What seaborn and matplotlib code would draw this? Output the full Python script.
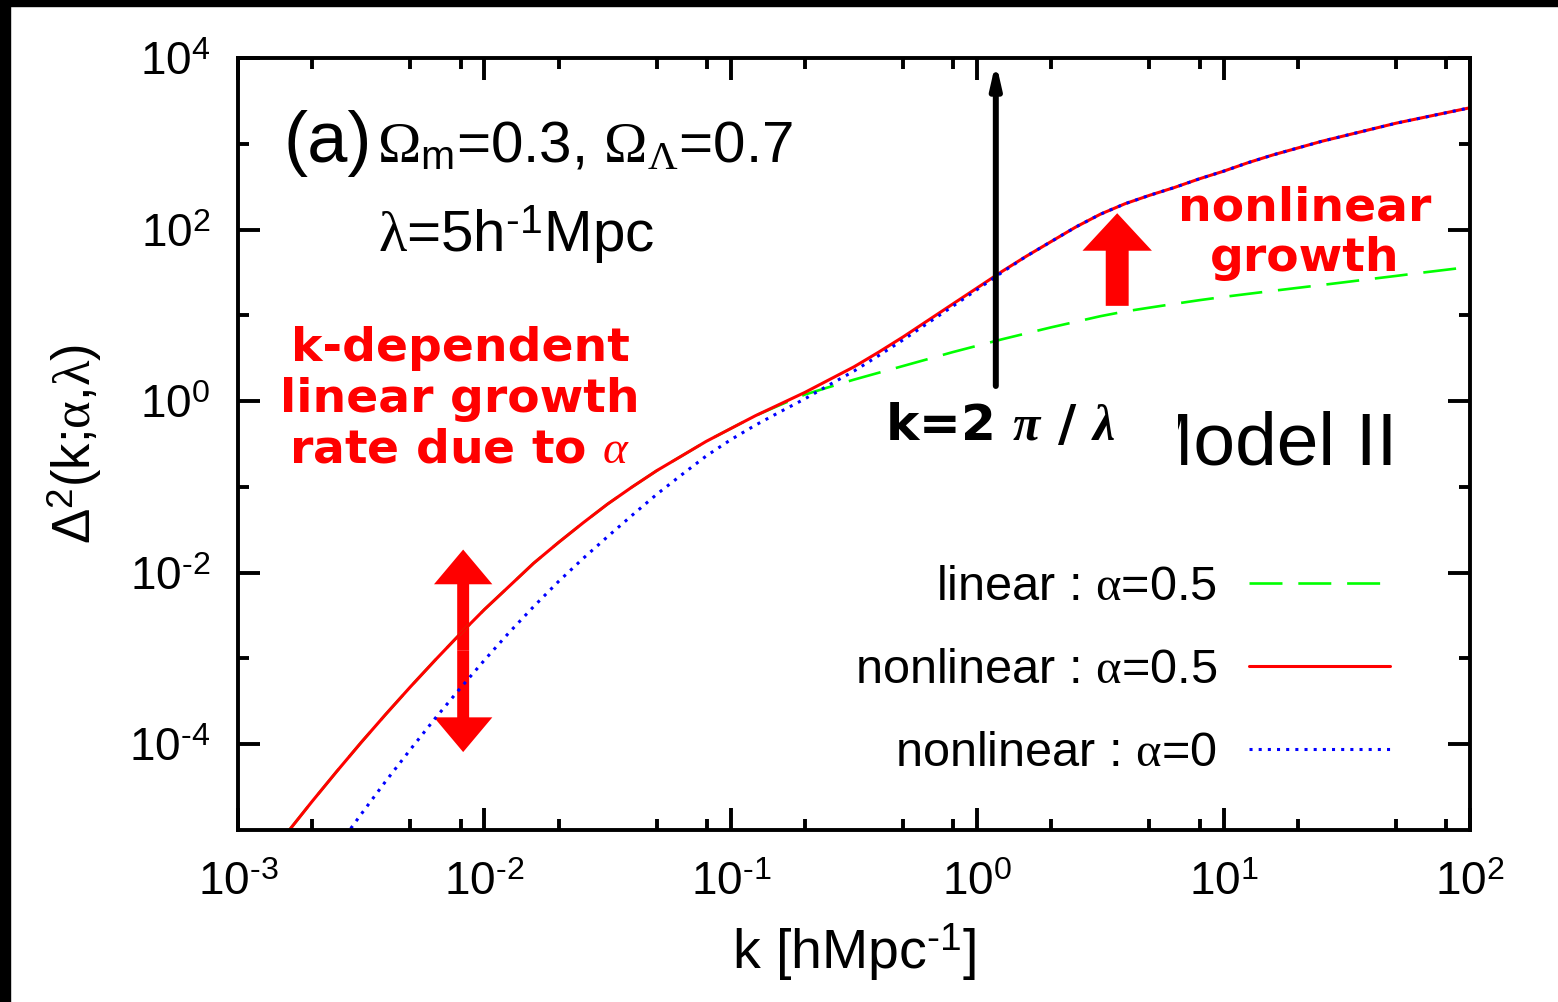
import matplotlib
matplotlib.use("Agg")
import matplotlib.pyplot as plt
import seaborn as sns
import pandas as pd
from matplotlib.patches import Rectangle, FancyArrowPatch
from matplotlib.ticker import FixedLocator, NullFormatter
from matplotlib.transforms import Bbox, TransformedBbox

# wavenumber k [h/Mpc]
k = [1.585e-3, 1.995e-3, 2.512e-3, 3.162e-3, 3.981e-3, 5.012e-3, 6.310e-3, 7.943e-3,
     1.000e-2, 1.259e-2, 1.585e-2, 1.995e-2, 2.512e-2, 3.162e-2, 3.981e-2, 5.012e-2,
     6.310e-2, 7.943e-2, 0.1000, 0.1259, 0.1585, 0.1995, 0.2512, 0.3162, 0.3981,
     0.5012, 0.6310, 0.7943, 1.000, 1.259, 1.585, 1.995, 2.512, 3.162, 3.981, 5.012,
     6.310, 7.943, 10.00, 12.59, 15.85, 19.95, 25.12, 31.62, 39.81, 50.12, 63.10,
     79.43, 100.0]

# Delta^2(k)
nonlin_a05 = [9.33e-6, 2.14e-5, 4.79e-5, 1.05e-4, 2.24e-4, 4.68e-4, 9.55e-4, 1.91e-3,
              3.72e-3, 6.92e-3, 1.29e-2, 2.24e-2, 3.80e-2, 6.31e-2, 0.100, 0.155,
              0.229, 0.339, 0.479, 0.676, 0.923, 1.26, 1.78, 2.51, 3.72,
              5.62, 8.71, 13.5, 20.9, 32.4, 49.0, 72.4, 107, 151, 200, 251,
              309, 389, 479, 603, 741, 891, 1072, 1259, 1479, 1738, 1995,
              2291, 2630]
lin_a05 = [9.33e-6, 2.14e-5, 4.79e-5, 1.05e-4, 2.24e-4, 4.68e-4, 9.55e-4, 1.91e-3,
           3.72e-3, 6.92e-3, 1.29e-2, 2.24e-2, 3.80e-2, 6.31e-2, 0.100, 0.155,
           0.229, 0.339, 0.479, 0.676, 0.902, 1.19, 1.46, 1.78, 2.14,
           2.57, 3.09, 3.72, 4.42, 5.25, 6.17, 7.24, 8.41, 9.77, 11.1, 12.3,
           13.6, 15.0, 16.4, 17.8, 19.3, 20.9, 22.6, 24.5, 26.6, 28.8, 31.3,
           33.9, 36.7]
nonlin_a0 = [9.33e-7, 2.40e-6, 6.17e-6, 1.53e-5, 3.72e-5, 8.71e-5, 2.00e-4, 4.42e-4,
             9.55e-4, 2.00e-3, 4.03e-3, 7.85e-3, 1.46e-2, 2.63e-2, 4.68e-2, 8.22e-2,
             0.138, 0.229, 0.355, 0.525, 0.750, 1.06, 1.55, 2.24, 3.39,
             5.19, 8.13, 12.7, 20.0, 31.6, 49.0, 72.4, 107, 151, 200, 251,
             309, 389, 479, 603, 741, 891, 1072, 1259, 1479, 1738, 1995,
             2291, 2630]

series_labels = [r"linear : $\mathsf{\alpha}$=0.5",
                 r"nonlinear : $\mathsf{\alpha}$=0.5",
                 r"nonlinear : $\mathsf{\alpha}$=0"]

xticks = [1e-3, 1e-2, 1e-1, 1e0, 1e1, 1e2]
xticklabels = [r"$10^{\text{-}3}$", r"$10^{\text{-}2}$", r"$10^{\text{-}1}$",
               r"$10^{0}$", r"$10^{1}$", r"$10^{2}$"]
yticks = [1e-4, 1e-2, 1e0, 1e2, 1e4]
yticklabels = [r"$10^{\text{-}4}$", r"$10^{\text{-}2}$", r"$10^{0}$", r"$10^{2}$", r"$10^{4}$"]

sns.set_theme(style="ticks")
plt.rcParams['font.family'] = ['Liberation Sans', 'DejaVu Sans']
plt.rcParams['mathtext.fontset'] = 'custom'
plt.rcParams['mathtext.rm'] = 'Liberation Sans'
plt.rcParams['mathtext.it'] = 'Liberation Serif:italic'
plt.rcParams['mathtext.sf'] = 'Liberation Serif'
plt.rcParams['mathtext.bf'] = 'Liberation Sans:bold'
plt.rcParams['mathtext.bfit'] = 'Liberation Serif:italic:bold'
for key in ['text.color', 'axes.labelcolor', 'xtick.color', 'ytick.color', 'axes.edgecolor']:
    plt.rcParams[key] = 'black'

W, H = 1558, 1002
fig = plt.figure(figsize=(W / 100, H / 100), dpi=100)
fig.patch.set_facecolor('white')
ax = fig.add_axes([238 / W, 1 - 830 / H, (1470 - 238) / W, (830 - 58) / H])
ax.set_facecolor('white')
ax.set_xscale('log')
ax.set_yscale('log')

df = pd.DataFrame({'k': k, 'lin': lin_a05, 'nl05': nonlin_a05, 'nl0': nonlin_a0})

sns.lineplot(data=df, x='k', y='lin', ax=ax, color='#00ff00', lw=1.9,
             linestyle=(0, (12.5, 6)), label=series_labels[0])
sns.lineplot(data=df, x='k', y='nl05', ax=ax, color='#ff0000', lw=2.2,
             label=series_labels[1])
sns.lineplot(data=df, x='k', y='nl0', ax=ax, color='#0000ff', lw=2.2,
             linestyle=(0, (1, 2)), label=series_labels[2])

ax.set_xlim(1e-3, 1e2)
ax.set_ylim(1e-5, 1e4)

ax.xaxis.set_major_locator(FixedLocator(xticks))
ax.set_xticklabels(xticklabels)
ax.xaxis.set_minor_locator(FixedLocator([m * d for d in [1e-3, 1e-2, 1e-1, 1, 10] for m in (2, 5, 8)]))
ax.xaxis.set_minor_formatter(NullFormatter())
ax.yaxis.set_major_locator(FixedLocator(yticks))
ax.set_yticklabels(yticklabels)
ax.yaxis.set_minor_locator(FixedLocator([1e-3, 1e-1, 1e1, 1e3]))
ax.yaxis.set_minor_formatter(NullFormatter())

for s in ax.spines.values():
    s.set_linewidth(2.8)
    s.set_color('black')
    s.set_visible(True)
ax.tick_params(which='both', direction='in', top=True, right=True, width=2.8, color='black')
ax.tick_params(which='major', length=16, labelsize=33)
ax.tick_params(which='minor', length=8)
ax.tick_params(axis='y', pad=20)
ax.tick_params(axis='x', pad=22)
ax.grid(False)

ax.set_xlabel(r"k [hMpc$^{\text{-}1}$]", fontsize=40, labelpad=12)
ax.set_ylabel(r"$\Delta^{2}$(k;$\mathsf{\alpha}$,$\mathsf{\lambda}$)", fontsize=38, labelpad=18)

leg = ax.legend(loc='lower right', bbox_to_anchor=(0.935, 0.07), markerfirst=False,
                frameon=False, fontsize=35, handlelength=2.9, handletextpad=0.66,
                labelspacing=0.78, borderaxespad=0, borderpad=0)


def fx(px):
    return px / W


def fy(py):
    return 1 - py / H


# panel text
fig.text(fx(283), fy(162), "(a)", fontsize=52, va='baseline')
fig.text(fx(377), fy(162), r"$\mathsf{\Omega}_{\mathrm{m}}$=0.3, $\mathsf{\Omega}_{\mathsf{\Lambda}}$=0.7",
         fontsize=42, va='baseline')
fig.text(fx(378), fy(252), r"$\mathsf{\lambda}$=5h$^{\text{-}1}$Mpc", fontsize=42, va='baseline')

# model label, partly hidden
model = fig.text(fx(1131), fy(465), "Model II", fontsize=54, va='baseline')
model.set_clip_box(TransformedBbox(Bbox.from_extents(1178 / W, 0, 1, 1), fig.transFigure))
model.set_clip_on(True)

# red annotations
fig.text(fx(460), fy(399), "k-dependent\nlinear growth\nrate due to $\\alpha$", color='red',
         fontsize=34, fontweight='bold', family='DejaVu Sans', ha='center', va='center',
         linespacing=1.16)
fig.text(fx(1305), fy(233), "nonlinear\ngrowth", color='red', fontsize=34,
         fontweight='bold', family='DejaVu Sans', ha='center', va='center', linespacing=1.16)
fig.text(fx(885), fy(426), r"k=2 $\mathbfit{\pi}$ / $\mathbfit{\lambda}$", color='black',
         fontsize=36, fontweight='bold', family='DejaVu Sans', va='center')

# k = 2 pi / lambda marker
ax.annotate('', xy=(1.19, 9.0e3), xytext=(1.19, 1.5),
            arrowprops=dict(arrowstyle='-|>,head_length=1.1,head_width=0.25',
                            lw=4.3, color='black', shrinkA=0, shrinkB=0))

# red double arrow
for tip in (1.86e-2, 8.1e-5):
    ax.add_patch(FancyArrowPatch((8.2e-3, 1.23e-3), (8.2e-3, tip),
                                 arrowstyle='simple,head_length=25,head_width=42,tail_width=8.6',
                                 mutation_scale=1, color='red', lw=0, shrinkA=0, shrinkB=0))
# red up arrow
ax.add_patch(FancyArrowPatch((3.7, 12.9), (3.7, 155),
                             arrowstyle='simple,head_length=27,head_width=50,tail_width=16.5',
                             mutation_scale=1, color='red', lw=0, shrinkA=0, shrinkB=0))

# black frame strips
fig.patches.append(Rectangle((0, 1 - 6 / H), 1, 6 / H, transform=fig.transFigure,
                             color='black', zorder=10))
fig.patches.append(Rectangle((0, 0), 10 / W, 1, transform=fig.transFigure,
                             color='black', zorder=10))

fig.savefig("out.png", dpi=100)
